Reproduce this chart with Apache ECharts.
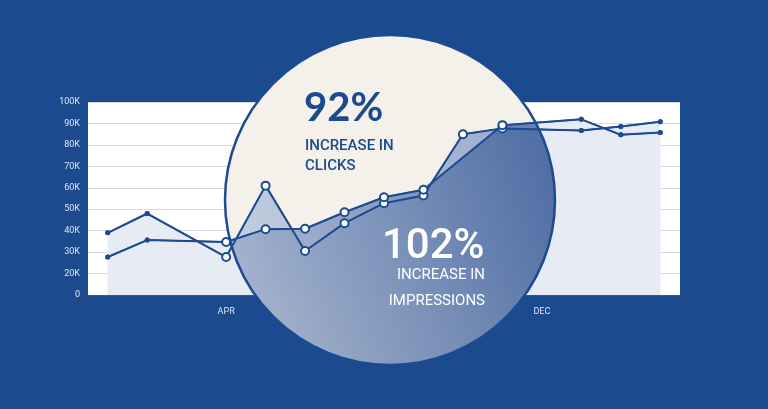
<!DOCTYPE html><html><head><meta charset="utf-8">
<script src="https://cdn.jsdelivr.net/npm/echarts@6/dist/echarts.min.js"></script>
<style>html,body{margin:0;background:#1b4a8f}#c{width:768px;height:409px}</style></head><body><div id="c"></div>
<script>
const categories=['JAN','FEB','MAR','APR','MAY','JUN','JUL','AUG','SEP','OCT','NOV','DEC','JAN2','FEB2','MAR2'];
const shownLabels=['APR','DEC'];
const clicks=[39,48,null,27.7,61,30.5,43.5,52.8,56.4,85,87.7,null,86.7,88.6,90.8].map(v=>v==null?null:v*1000);
const impressions=[27.7,35.6,null,34.7,40.7,40.9,48.6,55.6,59.1,null,89.2,null,91.9,84.7,85.8].map(v=>v==null?null:v*1000);
const yTicks=[10000,100000,10000];
const C='#1d4b91';
const chart=echarts.init(document.getElementById('c'));
const circ={cx:390,cy:200,r:165};
function pts(api,arr){const p=[];arr.forEach((v,i)=>{if(v!=null)p.push(api.coord([i,v]));});return p;}
function areaPoly(api,arr){const p=pts(api,arr);const b=400;return [[p[0][0],b],...p,[p[p.length-1][0],b]];}
const grad=(a)=>({type:'linear',x:0,y:1,x2:1,y2:0.3,colorStops:[{offset:0,color:'rgba(200,208,222,'+a+')'},{offset:1,color:'rgba(30,70,140,'+a+')'}]});
function inCircle(i){return i>=3&&i<=10;}
function mkData(arr){return arr.map((v,i)=>inCircle(i)&&v!=null?{value:v,symbolSize:8,itemStyle:{color:'#fff',borderColor:C,borderWidth:2}}:v);}
chart.setOption({
 backgroundColor:'#1b4a8f',animation:false,
 grid:{left:88,right:88,top:102,bottom:114,show:true,backgroundColor:'#fff',borderWidth:0},
 xAxis:{type:'category',data:categories,boundaryGap:true,axisLine:{lineStyle:{color:'#2a5aa0'}},axisTick:{show:false},
  axisLabel:{interval:0,color:'#dfe6f2',fontSize:9,fontFamily:'Roboto',margin:12,formatter:v=>shownLabels.includes(v)?v:''}},
 yAxis:{type:'value',min:yTicks[0],max:yTicks[1],interval:yTicks[2],axisLine:{show:false},
  axisLabel:{color:'#dfe6f2',fontSize:9,fontFamily:'Roboto',formatter:v=>v===10000?'0':(v/1000)+'K'},
  splitLine:{lineStyle:{color:'#d5dae3'}}},
 graphic:[
  {type:'circle',z:1,shape:{cx:circ.cx,cy:circ.cy,r:circ.r},style:{fill:'#f4f0ea'}},
  {type:'circle',z:10,shape:{cx:circ.cx,cy:circ.cy,r:circ.r},style:{fill:null,stroke:C,lineWidth:2.5}},
  {type:'text',z:11,x:304,y:88,style:{text:'92%',fill:'#1b4a8f',font:'bold 40px Lato'}},
  {type:'text',z:11,x:305,y:136,style:{text:'INCREASE IN\nCLICKS',fill:'#1b4a8f',font:'500 15px Roboto',lineHeight:20}},
  {type:'text',z:11,x:382,y:226,style:{text:'102%',fill:'#fff',font:'500 42px Roboto'}},
  {type:'text',z:11,x:485,y:262,style:{text:'INCREASE IN\nIMPRESSIONS',fill:'#fff',font:'15px Roboto',align:'right',lineHeight:26}}
 ],
 series:[
  {type:'line',z:2,data:clicks,connectNulls:true,symbol:'circle',symbolSize:5,itemStyle:{color:C},lineStyle:{color:C,width:1.5},areaStyle:{color:'#e7ebf3',opacity:1,origin:'start'}},
  {type:'line',z:2,data:impressions,connectNulls:true,symbol:'circle',symbolSize:5,itemStyle:{color:C},lineStyle:{color:C,width:1.5},areaStyle:{color:'#e7ebf3',opacity:1,origin:'start'}},
  {type:'custom',z:3,data:[0],renderItem:(params,api)=>({type:'group',children:[
    {type:'polygon',shape:{points:areaPoly(api,clicks)},style:{fill:grad(0.45)},clipPath:{type:'circle',shape:{cx:circ.cx,cy:circ.cy,r:circ.r}}},
    {type:'polygon',shape:{points:areaPoly(api,impressions)},style:{fill:grad(0.75)},clipPath:{type:'circle',shape:{cx:circ.cx,cy:circ.cy,r:circ.r}}}
  ]})},
  {type:'line',z:5,data:mkData(clicks),connectNulls:true,symbol:'circle',symbolSize:5,itemStyle:{color:C},lineStyle:{color:C,width:2}},
  {type:'line',z:5,data:mkData(impressions),connectNulls:true,symbol:'circle',symbolSize:5,itemStyle:{color:C},lineStyle:{color:C,width:2}}
 ]
});
</script></body></html>
